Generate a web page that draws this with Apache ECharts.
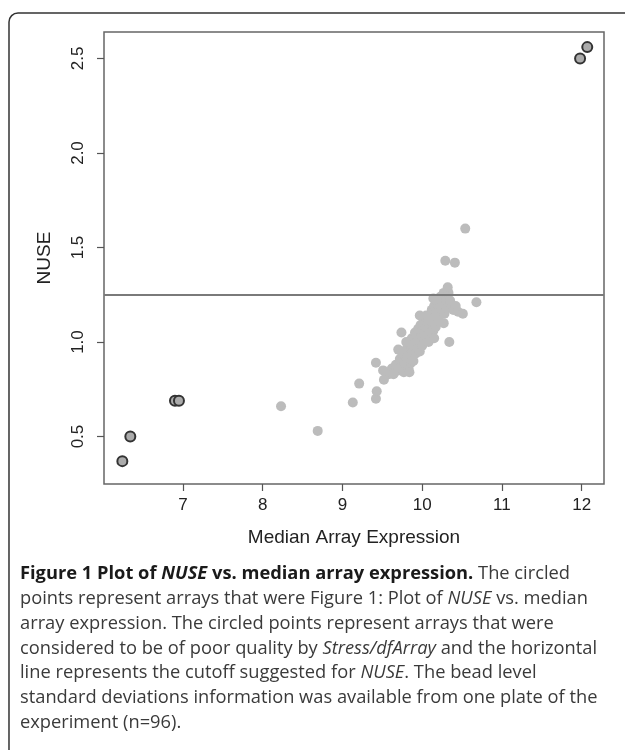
<!DOCTYPE html>
<html lang="en">
<head>
    <meta charset="UTF-8">
    <title>NUSE vs median array expression</title>
    <script src="https://cdn.jsdelivr.net/npm/echarts@6/dist/echarts.min.js"></script>
    <style>
        body { margin: 0; background: #fff; }
    </style>
</head>
<body>
    <div id="box" style="width: 625px; height: 750px;"></div>
</body>
<script>
    // arrays flagged as poor quality by Stress/dfArray (circled)
    var flagged = [[6.24, 0.37], [6.34, 0.50], [6.90, 0.69], [6.95, 0.69], [11.98, 2.50], [12.07, 2.56]]
    // scattered arrays away from the main cloud
    var outliers = [
        [8.23, 0.66], [8.69, 0.53], [9.13, 0.68], [9.21, 0.78], [9.42, 0.70], [9.43, 0.74],
        [9.42, 0.89], [9.52, 0.80], [9.51, 0.85], [10.34, 1.00], [10.68, 1.21], [10.51, 1.15],
        [10.54, 1.60], [10.29, 1.43], [10.41, 1.42], [10.32, 1.29], [10.14, 1.23], [10.35, 1.22]
    ]
    // the dense cloud around 10
    var cloud = [
        [9.58, 0.83], [9.62, 0.86], [9.65, 0.84], [9.67, 0.88], [9.70, 0.85], [9.72, 0.91], [9.74, 0.87],
        [9.75, 0.94], [9.77, 0.84], [9.78, 0.89], [9.80, 0.96], [9.81, 0.91], [9.83, 0.86], [9.84, 0.99],
        [9.85, 0.93], [9.86, 0.89], [9.87, 1.02], [9.88, 0.95], [9.89, 0.90], [9.90, 0.98], [9.91, 1.05],
        [9.92, 0.94], [9.93, 1.00], [9.94, 0.96], [9.95, 1.07], [9.96, 1.02], [9.97, 0.95], [9.98, 1.09],
        [9.99, 1.03], [10.00, 0.98], [10.01, 1.06], [10.02, 1.12], [10.03, 1.01], [10.04, 1.08], [10.05, 1.14],
        [10.06, 1.03], [10.07, 1.10], [10.08, 1.00], [10.09, 1.07], [10.10, 1.14], [10.11, 1.05], [10.12, 1.17],
        [10.13, 1.10], [10.14, 1.06], [10.15, 1.19], [10.16, 1.13], [10.17, 1.08], [10.18, 1.16], [10.19, 1.21],
        [10.20, 1.11], [10.21, 1.18], [10.22, 1.14], [10.23, 1.24], [10.24, 1.17], [10.26, 1.20], [10.27, 1.26],
        [10.28, 1.15], [10.30, 1.22], [10.31, 1.18], [10.33, 1.26], [10.36, 1.20], [10.39, 1.17], [10.42, 1.19],
        [10.45, 1.16], [9.74, 1.05], [9.97, 1.14], [9.84, 0.84], [9.64, 0.83], [9.70, 0.96], [10.27, 1.10],
        [9.80, 1.00], [10.15, 1.02]
    ]
    var cutoff = 1.25
    var xTicks = [7, 8, 9, 10, 11, 12]
    var yTicks = [0.5, 1.0, 1.5, 2.0, 2.5]

    var captionLines = [
        '{b|Figure 1 Plot of }{bi|NUSE}{b| vs. median array expression.} The circled',
        'points represent arrays that were Figure 1: Plot of {i|NUSE} vs. median',
        'array expression. The circled points represent arrays that were',
        'considered to be of poor quality by {i|Stress/dfArray} and the horizontal',
        'line represents the cutoff suggested for {i|NUSE}. The bead level',
        'standard deviations information was available from one plate of the',
        'experiment (n=96).'
    ]

    var capFont = '"Open Sans", sans-serif'
    var capSize = 18.3
    var graphics = [{
        type: 'rect',
        shape: { x: 9, y: 13, width: 760, height: 860, r: 9 },
        style: { fill: 'none', stroke: '#333', lineWidth: 1.5 },
        silent: true
    }]
    for (var i = 0; i < captionLines.length; i++) {
        graphics.push({
            type: 'text',
            left: 20,
            top: 565 + i * 24.8,
            style: {
                text: captionLines[i],
                fill: '#3a3a3a',
                font: capSize + 'px ' + capFont,
                rich: {
                    b: { fontFamily: 'Open Sans', fontSize: capSize, fontWeight: 'bold', fill: '#1a1a1a' },
                    bi: { fontFamily: 'Open Sans', fontSize: capSize, fontWeight: 'bold', fontStyle: 'italic', fill: '#1a1a1a' },
                    i: { fontFamily: 'Open Sans', fontSize: capSize, fontStyle: 'italic', fill: '#3a3a3a' }
                }
            }
        })
    }

    var labelFont = { fontFamily: 'Liberation Sans', fontSize: 17, color: '#222' }

    var mEcharts = echarts.init(document.querySelector('#box'))
    var option = {
        animation: false,
        grid: {
            left: 104, top: 32, right: 21, bottom: 266,
            show: true, borderColor: '#666', borderWidth: 1.5, backgroundColor: 'transparent'
        },
        xAxis: {
            type: 'value',
            min: 6.01, max: 12.28,
            name: 'Median Array Expression',
            nameLocation: 'middle',
            nameGap: 44,
            nameTextStyle: { fontFamily: 'Liberation Sans', fontSize: 19, color: '#222' },
            axisLine: { show: false },
            splitLine: { show: false },
            axisTick: { show: true, length: 7, customValues: xTicks, lineStyle: { color: '#555', width: 1.2 } },
            axisLabel: Object.assign({ customValues: xTicks, margin: 13 }, labelFont)
        },
        yAxis: {
            type: 'value',
            min: 0.249, max: 2.64,
            name: 'NUSE',
            nameLocation: 'middle',
            nameGap: 50,
            nameRotate: 90,
            nameTextStyle: { fontFamily: 'Liberation Sans', fontSize: 19, color: '#222' },
            axisLine: { show: false },
            splitLine: { show: false },
            axisTick: { show: true, length: 7, customValues: yTicks, lineStyle: { color: '#555', width: 1.2 } },
            axisLabel: Object.assign({
                customValues: yTicks, rotate: 90, margin: 17,
                formatter: function (v) { return v.toFixed(1) }
            }, labelFont)
        },
        series: [{
            name: 'arrays',
            type: 'scatter',
            symbolSize: 10,
            itemStyle: { color: '#bcbcbc', opacity: 1 },
            data: cloud.concat(outliers),
            markLine: {
                silent: true,
                symbol: 'none',
                label: { show: false },
                lineStyle: { color: '#7a7a7a', width: 2, type: 'solid' },
                data: [{ yAxis: cutoff }]
            }
        }, {
            name: 'poor quality',
            type: 'scatter',
            symbolSize: 10,
            itemStyle: { color: '#ababab', borderColor: '#333', borderWidth: 2, opacity: 1 },
            data: flagged
        }],
        graphic: graphics
    }
    mEcharts.setOption(option)
</script>
</html>
